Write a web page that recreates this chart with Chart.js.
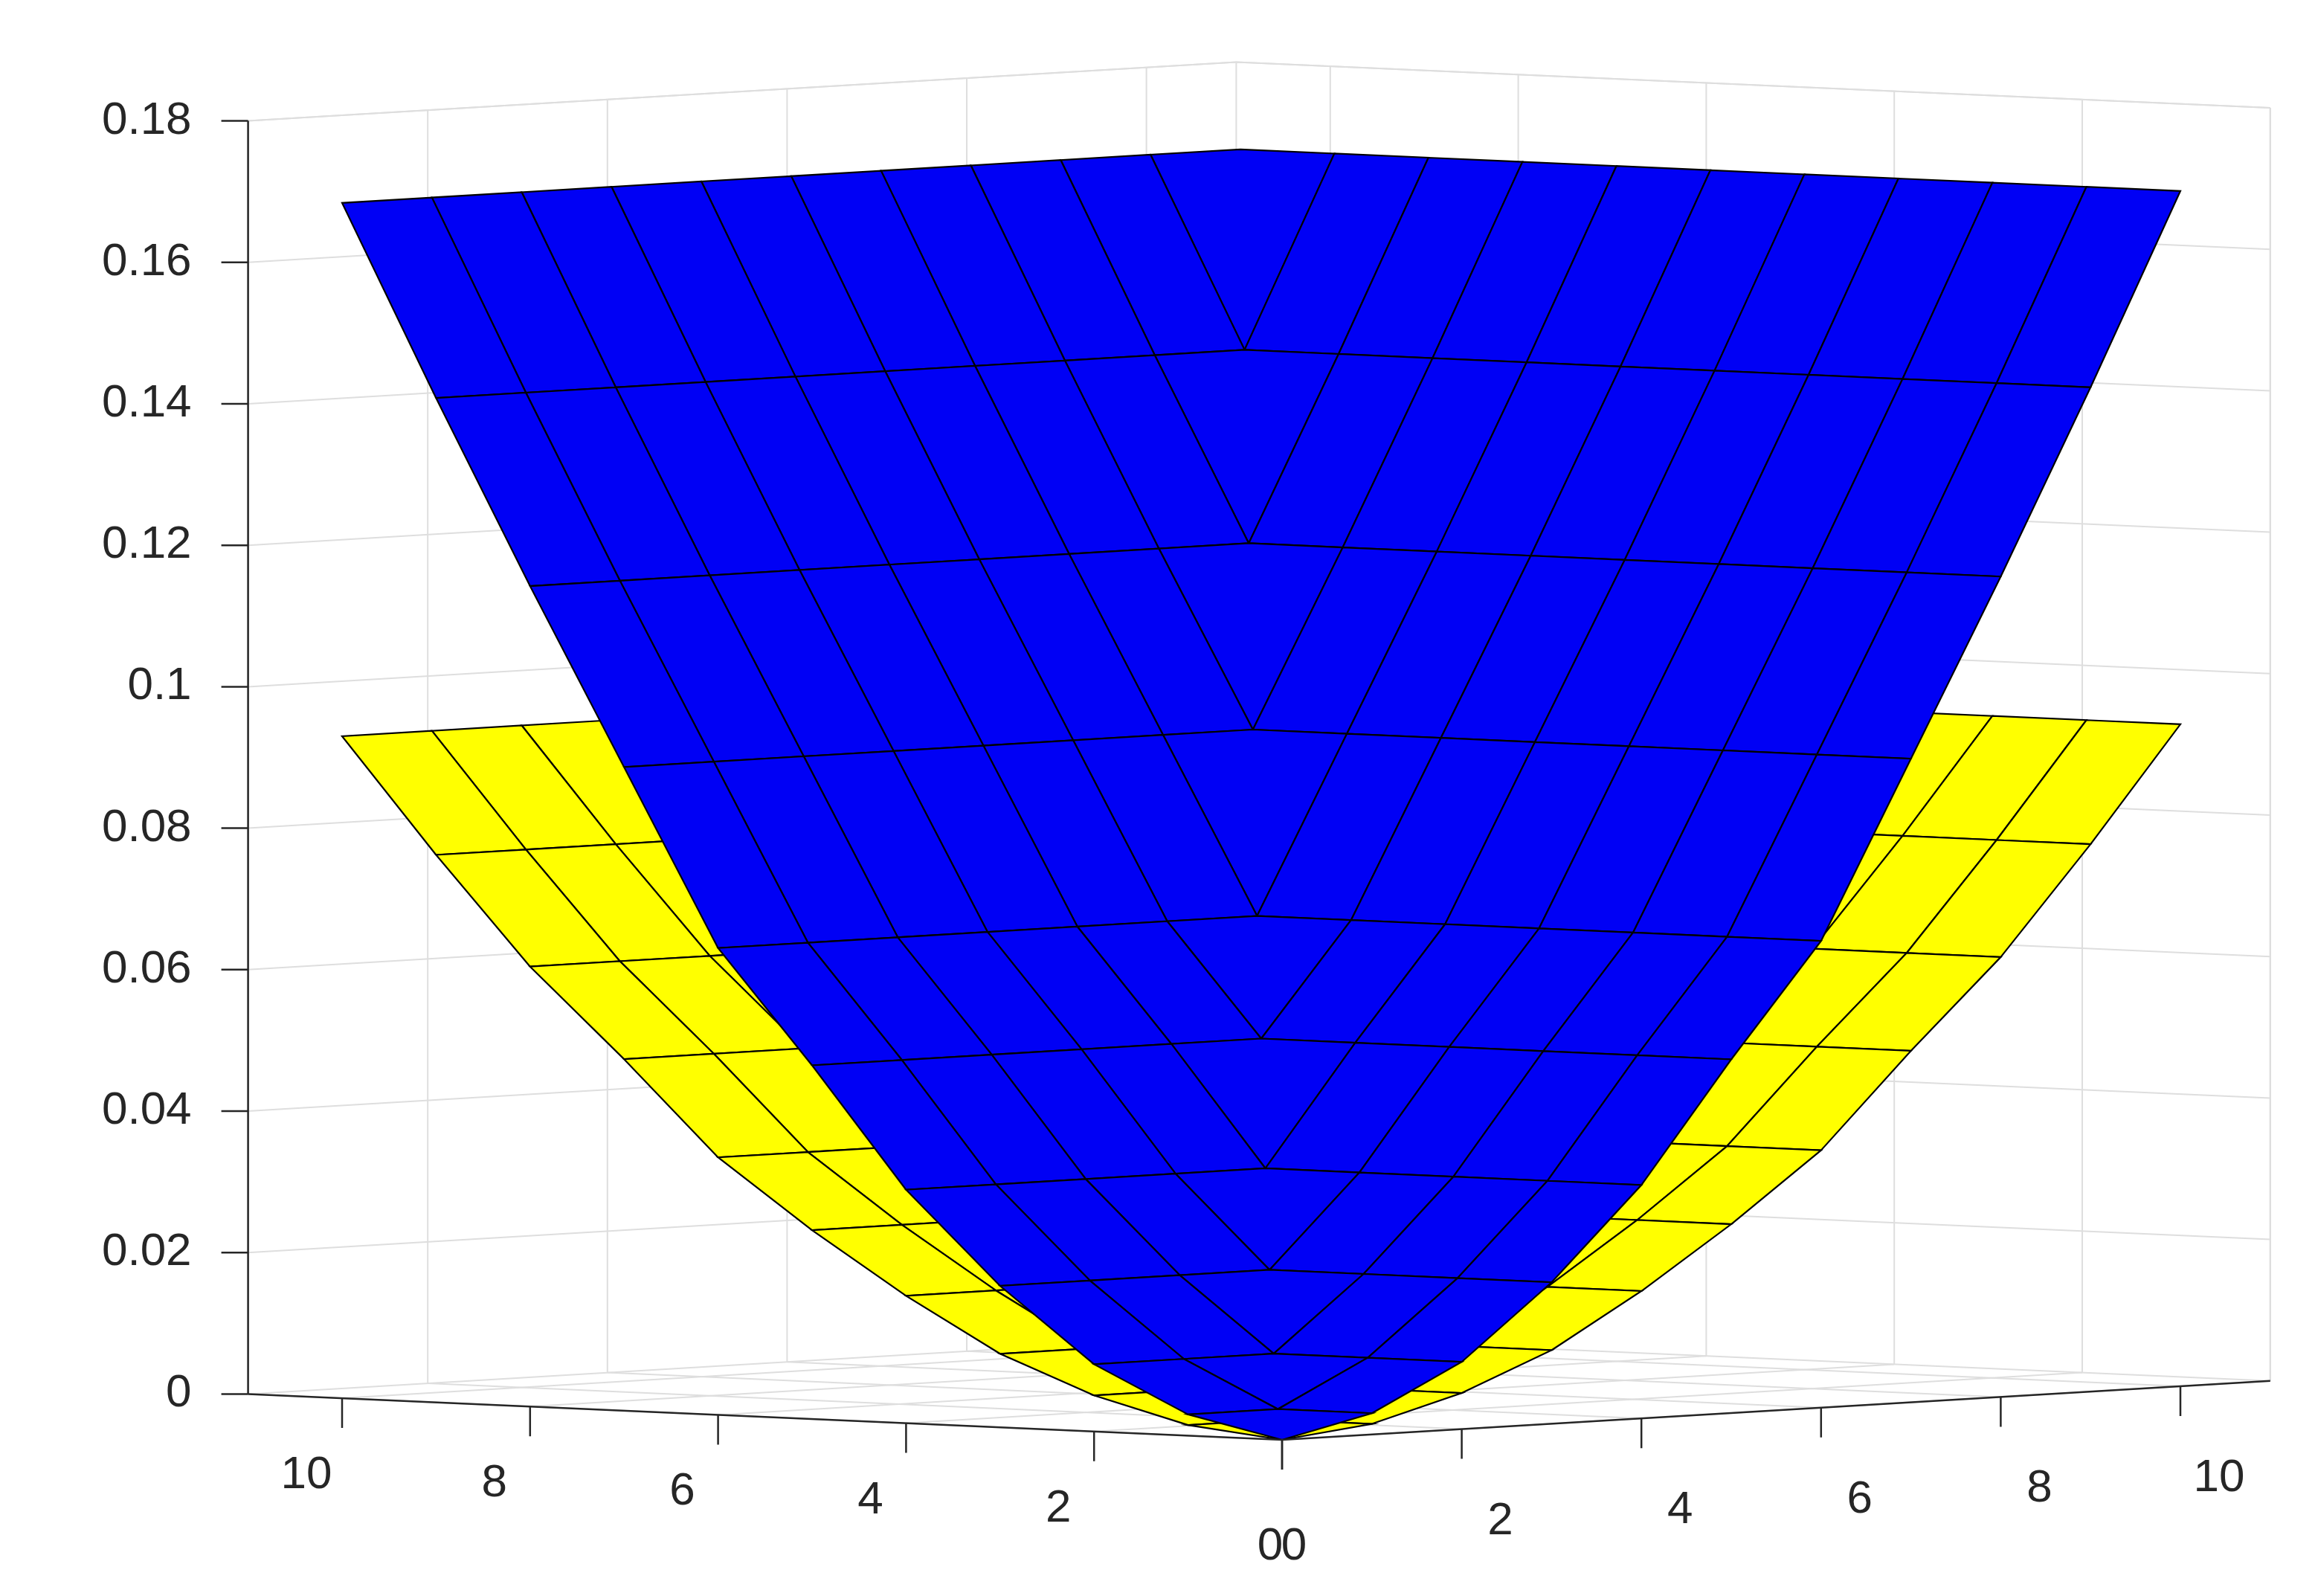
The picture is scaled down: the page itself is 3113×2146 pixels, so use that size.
<!DOCTYPE html>
<html><head><meta charset="utf-8">
<script src="https://cdn.jsdelivr.net/npm/chart.js@4"></script>
<style>html,body{margin:0;padding:0;background:#fff}#w{width:3113px;height:2146px}</style>
</head><body><div id="w"><canvas id="c"></canvas></div>
<script>
// grid coordinates
const gridX = [0,1,2,3,4,5,6,7,8,9,10];
const gridY = [0,1,2,3,4,5,6,7,8,9,10];
// surface heights per ring (ring index = max(i,j))
const blueLevels   = [0,0.003,0.0095,0.020,0.033,0.050,0.066,0.091,0.116,0.142,0.169];
const yellowLevels = [0,0.0015,0.0051,0.0104,0.018,0.0267,0.0364,0.0497,0.0622,0.0774,0.0936];
// axis ticks
const xTicks = [0,2,4,6,8,10];
const yTicks = [0,2,4,6,8,10];
const zTicks = [0,0.02,0.04,0.06,0.08,0.1,0.12,0.14,0.16,0.18];
const zTickLabels = ['0','0.02','0.04','0.06','0.08','0.1','0.12','0.14','0.16','0.18'];
const axisMax = 11, zMax = 0.18;

// view projection (in reference half-scale units)
function P(x,y,z){ return {x: 862 - 63.2*x + 60.4*y, y: 968 - 2.8*x - 3.6*y - 4755*z}; }

const datasets = [];
let ord = 100000;
function line(pts, color, w){ datasets.push({type:'line', data:pts, borderColor:color, borderWidth:w, pointRadius:0, fill:false, order:ord--, tension:0}); }
function poly(pts, fillc){ datasets.push({type:'line', data:pts.concat([pts[0]]), borderColor:'#000', borderWidth:2.2, polyFill:fillc, pointRadius:0, fill:false, order:ord--, tension:0}); }

const G='#dedede';
zTicks.forEach(z=>{ line([P(axisMax,0,z),P(axisMax,axisMax,z),P(0,axisMax,z)],G,2); });
yTicks.forEach(y=>{ line([P(axisMax,y,0),P(axisMax,y,zMax)],G,2); });
xTicks.forEach(x=>{ line([P(x,axisMax,0),P(x,axisMax,zMax)],G,2); });
line([P(axisMax,axisMax,0),P(axisMax,axisMax,zMax)],G,2);
line([P(0,axisMax,0),P(0,axisMax,zMax)],G,2);
line([P(axisMax,0,zMax),P(axisMax,axisMax,zMax),P(0,axisMax,zMax)],G,2);
xTicks.forEach(x=>{ line([P(x,0,0),P(x,axisMax,0)],G,2); });
yTicks.forEach(y=>{ line([P(0,y,0),P(axisMax,y,0)],G,2); });

function surface(levels, color){
  const quads=[];
  for(let i=0;i<gridX.length-1;i++)for(let j=0;j<gridY.length-1;j++){
    const z=(a,b)=>levels[Math.max(a,b)];
    quads.push({d:i+j, pts:[P(gridX[i],gridY[j],z(i,j)),P(gridX[i+1],gridY[j],z(i+1,j)),P(gridX[i+1],gridY[j+1],z(i+1,j+1)),P(gridX[i],gridY[j+1],z(i,j+1))]});
  }
  quads.sort((a,b)=>b.d-a.d).forEach(q=>poly(q.pts,color));
}
surface(yellowLevels,'#ffff00');
surface(blueLevels,'#0000f5');

const A='#262626';
line([P(axisMax,0,0),P(axisMax,0,zMax)],A,2.5);
line([P(axisMax,0,0),P(0,0,0),P(0,axisMax,0)],A,2.5);
zTicks.forEach(z=>{ const p=P(axisMax,0,z); line([{x:p.x-18,y:p.y},{x:p.x,y:p.y}],A,2.5); });
xTicks.forEach(x=>{ const p=P(x,0,0); line([p,{x:p.x,y:p.y+20}],A,2.5); });
yTicks.forEach(y=>{ const p=P(0,y,0); line([p,{x:p.x,y:p.y+20}],A,2.5); });

const polyFiller={id:'polyFiller',beforeDatasetDraw(c,args){
  const ds=c.data.datasets[args.index]; if(!ds.polyFill) return;
  const pts=args.meta.data, ctx=c.ctx;
  ctx.save(); ctx.beginPath();
  pts.forEach((p,i)=>{ i?ctx.lineTo(p.x,p.y):ctx.moveTo(p.x,p.y); });
  ctx.closePath(); ctx.fillStyle=ds.polyFill; ctx.fill(); ctx.restore();
}};

const labels={id:'labels',afterDraw(c){
  const ctx=c.ctx, sx=c.scales.x, sy=c.scales.y, k=c.width/1556.5;
  ctx.save(); ctx.fillStyle='#262626'; ctx.font=(31*k)+'px "Liberation Sans", Arial, sans-serif';
  ctx.textBaseline='middle';
  ctx.textAlign='right';
  zTicks.forEach((z,i)=>{const p=P(axisMax,0,z); ctx.fillText(zTickLabels[i], sx.getPixelForValue(p.x-38), sy.getPixelForValue(p.y));});
  ctx.textAlign='center';
  xTicks.forEach(x=>{const p=P(x,0,0); ctx.fillText(String(x), sx.getPixelForValue(p.x-(x===0?8:24)), sy.getPixelForValue(p.y+(x===0?72:52)));});
  yTicks.forEach(y=>{const p=P(0,y,0); ctx.fillText(String(y), sx.getPixelForValue(p.x+(y===0?8:26)), sy.getPixelForValue(p.y+(y===0?72:62)));});
  ctx.restore();
}};

new Chart(document.getElementById('c'),{
  type:'scatter',
  data:{datasets},
  options:{responsive:true,maintainAspectRatio:false,animation:false,devicePixelRatio:1,
    layout:{padding:0},
    plugins:{legend:{display:false},tooltip:{enabled:false}},
    scales:{x:{type:'linear',min:0,max:1556.5,display:false},y:{type:'linear',min:0,max:1073,reverse:true,display:false}}
  },
  plugins:[polyFiller,labels]
});
</script></body></html>
